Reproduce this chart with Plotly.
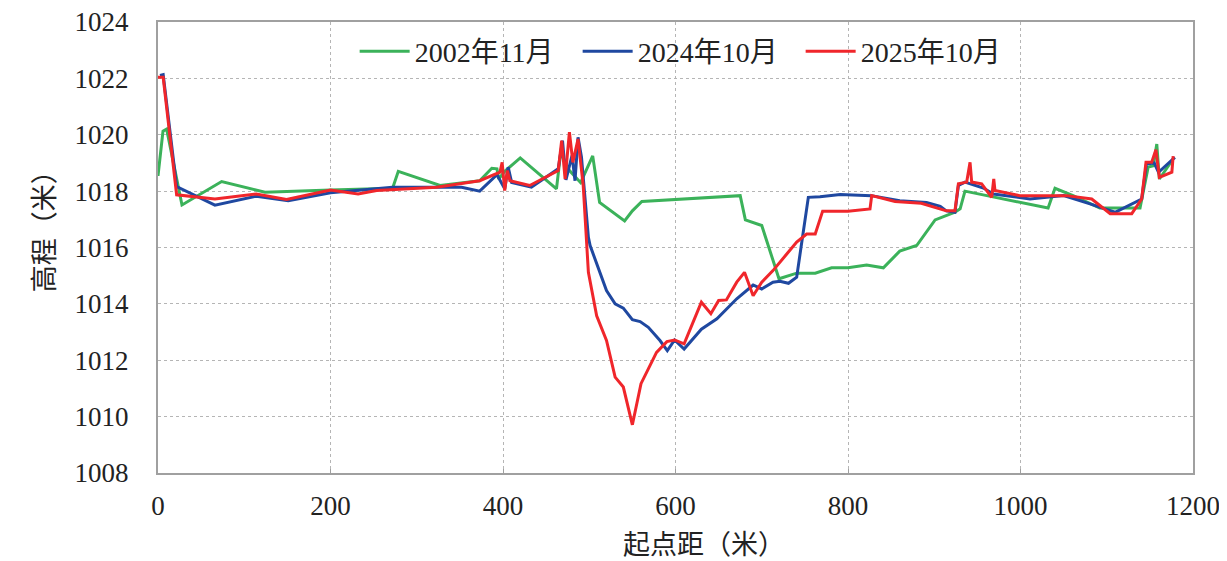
import plotly.graph_objects as go

# 2002年11月
x_2002 = [0, 5.8, 10, 27.8, 73.8, 124, 200, 272, 278.6, 327, 373, 387, 393, 395, 402, 420, 462, 467, 475, 490, 504, 512, 541, 550, 561, 675, 681, 700, 720, 740.5, 762, 781, 800, 821.6, 841, 860, 879.6, 901, 924, 930, 935.6, 1032, 1040, 1061, 1092, 1138.6, 1148, 1154, 1158, 1161, 1177]
y_2002 = [1018.54, 1020.13, 1020.2, 1017.51, 1018.34, 1017.96, 1018.04, 1018.1, 1018.7, 1018.2, 1018.37, 1018.81, 1018.79, 1018.43, 1018.7, 1019.18, 1018.08, 1019.4, 1018.8, 1018.3, 1019.25, 1017.6, 1016.94, 1017.3, 1017.63, 1017.84, 1016.98, 1016.78, 1014.89, 1015.09, 1015.09, 1015.28, 1015.28, 1015.38, 1015.28, 1015.87, 1016.07, 1016.98, 1017.25, 1017.37, 1018.0, 1017.4, 1018.1, 1017.84, 1017.4, 1017.4, 1018.85, 1018.9, 1019.67, 1018.43, 1019.14]

# 2024年10月
x_2024 = [2.3, 6, 21.6, 66, 114, 151, 200, 272, 352, 373, 393, 402, 406, 410, 433, 464, 469, 473, 480, 483.5, 487, 491, 499, 501, 520, 530, 539.5, 550, 559, 568.5, 582, 590.5, 599, 610, 630, 648, 671, 690, 700, 713, 721, 731, 740.5, 754, 767.5, 791, 827, 860, 891, 907, 914, 924, 928, 935.6, 957, 968.6, 1011, 1050, 1080.6, 1109.6, 1140.5, 1146, 1155, 1160, 1179]
y_2024 = [1022.1, 1022.13, 1018.16, 1017.5, 1017.82, 1017.66, 1017.94, 1018.14, 1018.14, 1018.0, 1018.58, 1018.08, 1018.85, 1018.31, 1018.14, 1018.79, 1019.79, 1018.4, 1019.26, 1018.37, 1019.91, 1019.2, 1016.36, 1016.07, 1014.47, 1014.0, 1013.85, 1013.44, 1013.37, 1013.17, 1012.7, 1012.34, 1012.72, 1012.4, 1013.1, 1013.47, 1014.18, 1014.67, 1014.53, 1014.77, 1014.8, 1014.73, 1014.95, 1017.78, 1017.8, 1017.88, 1017.84, 1017.66, 1017.6, 1017.46, 1017.3, 1017.25, 1018.2, 1018.32, 1018.11, 1017.9, 1017.72, 1017.84, 1017.55, 1017.25, 1017.72, 1018.96, 1019.0, 1018.67, 1019.2]

# 2025年10月
x_2025 = [0, 6, 21.6, 66, 114, 149, 200, 232, 253.6, 323, 373, 396.5, 399, 402, 405, 408, 431, 464, 468, 472, 477, 481, 487, 493, 499, 508.6, 520, 530, 539.5, 550, 560, 578, 590, 599, 610, 630, 641, 650, 659, 671, 680, 690, 700, 713, 729, 740.5, 752, 762, 770.6, 800, 825.5, 827.5, 854.5, 885, 914, 924, 928, 937.6, 941.5, 943.4, 955, 966.6, 969, 970.4, 999, 1053.5, 1082.6, 1104, 1129, 1140.5, 1145.5, 1152, 1157, 1161, 1175.5, 1177]
y_2025 = [1022.04, 1022.04, 1017.87, 1017.72, 1017.9, 1017.7, 1018.04, 1017.9, 1018.02, 1018.14, 1018.37, 1018.67, 1019.02, 1018.02, 1018.73, 1018.37, 1018.2, 1018.73, 1019.79, 1018.43, 1020.09, 1019.02, 1019.85, 1018.2, 1015.12, 1013.58, 1012.7, 1011.4, 1011.05, 1009.71, 1011.17, 1012.28, 1012.66, 1012.72, 1012.58, 1014.06, 1013.65, 1014.12, 1014.14, 1014.77, 1015.12, 1014.29, 1014.77, 1015.18, 1015.77, 1016.19, 1016.48, 1016.48, 1017.29, 1017.29, 1017.37, 1017.84, 1017.63, 1017.57, 1017.3, 1017.3, 1018.26, 1018.32, 1019.02, 1018.32, 1018.26, 1017.78, 1018.43, 1018.02, 1017.84, 1017.84, 1017.72, 1017.2, 1017.2, 1017.72, 1019.02, 1019.02, 1019.47, 1018.49, 1018.67, 1019.24]

x_ticks = [0, 200, 400, 600, 800, 1000, 1200]
y_ticks = [1008, 1010, 1012, 1014, 1016, 1018, 1020, 1022, 1024]
x_title = "起点距（米）"
y_title = "高程（米）"

FONT = "'Liberation Serif', 'Noto Sans CJK SC', serif"

fig = go.Figure()
fig.add_trace(go.Scatter(x=x_2002, y=y_2002, mode="lines", name="2002年11月",
                         line=dict(color="#3bb25a", width=3)))
fig.add_trace(go.Scatter(x=x_2024, y=y_2024, mode="lines", name="2024年10月",
                         line=dict(color="#1f48a0", width=3)))
fig.add_trace(go.Scatter(x=x_2025, y=y_2025, mode="lines", name="2025年10月",
                         line=dict(color="#f0262b", width=3)))

# page body has an 8px margin, so figure is sized/offset to compensate
fig.update_layout(
    width=1219, height=553,
    margin=dict(l=150, r=34, t=14, b=88),
    plot_bgcolor="white", paper_bgcolor="white",
    font=dict(family=FONT, size=27, color="#222222"),
    showlegend=True,
    legend=dict(orientation="h", x=0.19, y=0.99, xanchor="left", yanchor="top",
                bgcolor="rgba(255,255,255,0)", font=dict(family=FONT, size=28),
                itemwidth=50, tracegroupgap=0,
                entrywidth=158, entrywidthmode="pixels"),
    xaxis=dict(range=[0, 1200], tickvals=x_ticks, ticktext=[str(v) for v in x_ticks],
               showgrid=True, gridcolor="#b5b5b5", griddash="dot", gridwidth=1,
               showline=True, linecolor="#a0a0a0", linewidth=2, mirror=True,
               ticks="inside", ticklen=4, tickcolor="#a0a0a0", tickwidth=1,
               ticklabelstandoff=8, zeroline=False, automargin=False,
               ticklabeloverflow="allow",
               tickfont=dict(family=FONT, size=27)),
    yaxis=dict(range=[1008, 1024], tickvals=y_ticks, ticktext=[str(v) for v in y_ticks],
               showgrid=True, gridcolor="#b5b5b5", griddash="dot", gridwidth=1,
               showline=True, linecolor="#a0a0a0", linewidth=2, mirror=True,
               ticks="", ticklabelstandoff=22, zeroline=False, automargin=False,
               ticklabeloverflow="allow",
               tickfont=dict(family=FONT, size=27)),
    annotations=[
        dict(text=x_title, xref="paper", yref="paper", x=0.528, y=-0.16,
             xanchor="center", yanchor="middle", showarrow=False,
             font=dict(family=FONT, size=27, color="#222222")),
        dict(text=y_title, xref="paper", yref="paper", x=-0.109, y=0.55,
             xanchor="center", yanchor="middle", showarrow=False, textangle=-90,
             font=dict(family=FONT, size=27, color="#222222")),
    ],
)

fig.write_html("out.html")
